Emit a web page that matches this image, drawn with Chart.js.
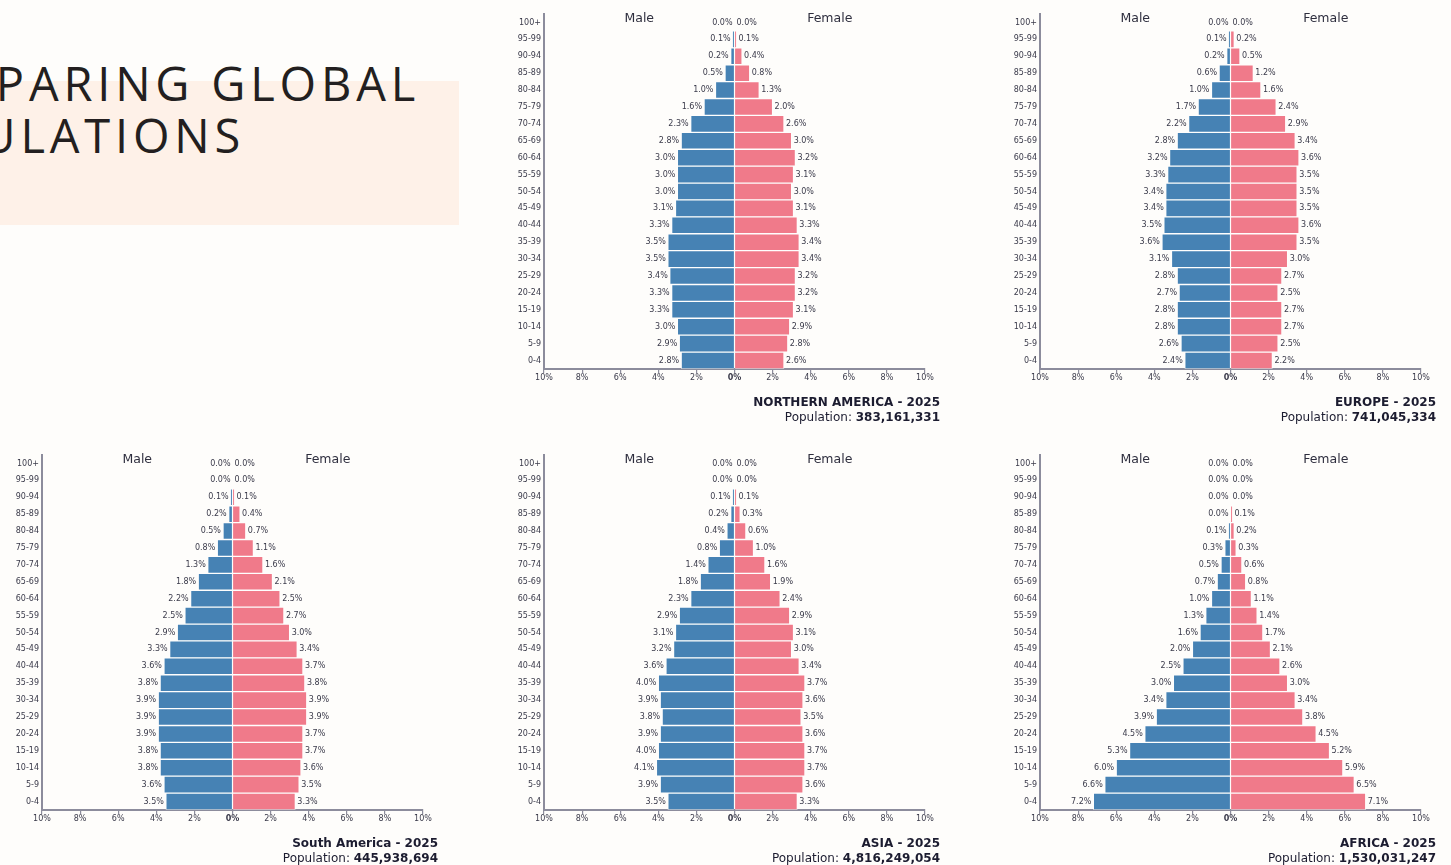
<!DOCTYPE html>
<html>
<head>
<meta charset="utf-8">
<script src="https://cdn.jsdelivr.net/npm/chart.js@4.4.1/dist/chart.umd.min.js"></script>
<style>
  html, body { margin: 0; padding: 0; }
  body { width: 1451px; height: 865px; background: #fefdfb; position: relative; overflow: hidden; font-family: "DejaVu Sans", sans-serif; }
  .box { position: absolute; left: 0; top: 81px; width: 459px; height: 144px; background: #fef1e8; }
  .head { position: absolute; white-space: nowrap; font-family: "Open Sans", sans-serif; font-size: 47px; line-height: 52px; letter-spacing: 4.8px; color: #231f20; text-align: right; }
  canvas { position: absolute; }
</style>
</head>
<body>
<div class="box"></div>
<div class="head" style="right:1031px; top:57px;">COMPARING GLOBAL</div>
<div class="head" style="right:1206px; top:109px;">POPULATIONS</div>

<canvas id="chart_na" width="440" height="425" style="left:504px; top:1px;"></canvas>
<canvas id="chart_eu" width="440" height="425" style="left:1000px; top:1px;"></canvas>
<canvas id="chart_sa" width="440" height="425" style="left:2px; top:442px;"></canvas>
<canvas id="chart_as" width="440" height="425" style="left:504px; top:442px;"></canvas>
<canvas id="chart_af" width="440" height="425" style="left:1000px; top:442px;"></canvas>

<script>
// age groups, top row first
const ageGroups = ["100+", "95-99", "90-94", "85-89", "80-84", "75-79", "70-74", "65-69", "60-64", "55-59",
  "50-54", "45-49", "40-44", "35-39", "30-34", "25-29", "20-24", "15-19", "10-14", "5-9", "0-4"];

const xTicks = [-10, -8, -6, -4, -2, 0, 2, 4, 6, 8, 10];

const naMale   = [0.0, 0.1, 0.2, 0.5, 1.0, 1.6, 2.3, 2.8, 3.0, 3.0, 3.0, 3.1, 3.3, 3.5, 3.5, 3.4, 3.3, 3.3, 3.0, 2.9, 2.8];
const naFemale = [0.0, 0.1, 0.4, 0.8, 1.3, 2.0, 2.6, 3.0, 3.2, 3.1, 3.0, 3.1, 3.3, 3.4, 3.4, 3.2, 3.2, 3.1, 2.9, 2.8, 2.6];

const euMale   = [0.0, 0.1, 0.2, 0.6, 1.0, 1.7, 2.2, 2.8, 3.2, 3.3, 3.4, 3.4, 3.5, 3.6, 3.1, 2.8, 2.7, 2.8, 2.8, 2.6, 2.4];
const euFemale = [0.0, 0.2, 0.5, 1.2, 1.6, 2.4, 2.9, 3.4, 3.6, 3.5, 3.5, 3.5, 3.6, 3.5, 3.0, 2.7, 2.5, 2.7, 2.7, 2.5, 2.2];

const saMale   = [0.0, 0.0, 0.1, 0.2, 0.5, 0.8, 1.3, 1.8, 2.2, 2.5, 2.9, 3.3, 3.6, 3.8, 3.9, 3.9, 3.9, 3.8, 3.8, 3.6, 3.5];
const saFemale = [0.0, 0.0, 0.1, 0.4, 0.7, 1.1, 1.6, 2.1, 2.5, 2.7, 3.0, 3.4, 3.7, 3.8, 3.9, 3.9, 3.7, 3.7, 3.6, 3.5, 3.3];

const asMale   = [0.0, 0.0, 0.1, 0.2, 0.4, 0.8, 1.4, 1.8, 2.3, 2.9, 3.1, 3.2, 3.6, 4.0, 3.9, 3.8, 3.9, 4.0, 4.1, 3.9, 3.5];
const asFemale = [0.0, 0.0, 0.1, 0.3, 0.6, 1.0, 1.6, 1.9, 2.4, 2.9, 3.1, 3.0, 3.4, 3.7, 3.6, 3.5, 3.6, 3.7, 3.7, 3.6, 3.3];

const afMale   = [0.0, 0.0, 0.0, 0.0, 0.1, 0.3, 0.5, 0.7, 1.0, 1.3, 1.6, 2.0, 2.5, 3.0, 3.4, 3.9, 4.5, 5.3, 6.0, 6.6, 7.2];
const afFemale = [0.0, 0.0, 0.0, 0.1, 0.2, 0.3, 0.6, 0.8, 1.1, 1.4, 1.7, 2.1, 2.6, 3.0, 3.4, 3.8, 4.5, 5.2, 5.9, 6.5, 7.1];

const MALE_COLOR = "#4682b4";
const FEMALE_COLOR = "#f07a8a";
const TEXT_COLOR = "#3a3a4a";
const AXIS_COLOR = "#8c8c9c";

// draws the % labels, the Male / Female headers and the title block
const pyramidLabels = {
  id: "pyramidLabels",
  afterDatasetsDraw(chart, args, opts) {
    const ctx = chart.ctx;
    const area = chart.chartArea;
    const xs = chart.scales.x;
    ctx.save();
    ctx.font = "8px 'DejaVu Sans'";
    ctx.fillStyle = TEXT_COLOR;
    ctx.textBaseline = "middle";
    chart.data.datasets.forEach((ds, i) => {
      const meta = chart.getDatasetMeta(i);
      meta.data.forEach((bar, j) => {
        const txt = Math.abs(ds.data[j]).toFixed(1) + "%";
        if (i === 0) {
          ctx.textAlign = "right";
          ctx.fillText(txt, bar.x - 2, bar.y);
        } else {
          ctx.textAlign = "left";
          ctx.fillText(txt, bar.x + 2, bar.y);
        }
      });
    });

    ctx.font = "12.5px 'DejaVu Sans'";
    ctx.fillStyle = "#2e2e3e";
    ctx.textAlign = "center";
    ctx.fillText("Male", xs.getPixelForValue(-5), area.top + 5);
    ctx.fillText("Female", xs.getPixelForValue(5), area.top + 5);

    const right = area.right + 15;
    ctx.fillStyle = "#1c1c30";
    ctx.textAlign = "right";
    ctx.font = "bold 12px 'DejaVu Sans'";
    ctx.fillText(opts.title, right, area.bottom + 34);
    const w = ctx.measureText(opts.population).width;
    ctx.fillText(opts.population, right, area.bottom + 49);
    ctx.font = "12px 'DejaVu Sans'";
    ctx.fillText("Population: ", right - w, area.bottom + 49);
    ctx.restore();
  },
};

function makePyramid(canvasId, male, female, title, population) {
  const ctx = document.getElementById(canvasId).getContext("2d");
  return new Chart(ctx, {
    type: "bar",
    data: {
      labels: ageGroups,
      datasets: [
        {
          label: "Male",
          data: male.map((v) => -v),
          backgroundColor: MALE_COLOR,
          borderColor: "rgba(255,255,255,0.55)",
          borderWidth: 1,
          barPercentage: 1,
          categoryPercentage: 1,
        },
        {
          label: "Female",
          data: female,
          backgroundColor: FEMALE_COLOR,
          borderColor: "rgba(255,255,255,0.55)",
          borderWidth: 1,
          barPercentage: 1,
          categoryPercentage: 1,
        },
      ],
    },
    options: {
      indexAxis: "y",
      responsive: false,
      animation: false,
      layout: {
        padding: { left: 4, right: 19, top: 13, bottom: 37 },
      },
      scales: {
        x: {
          stacked: true,
          min: -10,
          max: 10,
          afterFit: (s) => { s.height = 20; },
          afterBuildTicks: (s) => { s.ticks = xTicks.map((v) => ({ value: v })); },
          grid: {
            drawOnChartArea: false,
            drawTicks: true,
            tickLength: 4,
            color: AXIS_COLOR,
            lineWidth: 1.2,
          },
          border: { display: true, color: AXIS_COLOR, width: 2 },
          ticks: {
            padding: 0,
            color: TEXT_COLOR,
            maxRotation: 0,
            font: (c) => ({
              family: "DejaVu Sans",
              size: 8,
              weight: c.tick && c.tick.value === 0 ? "bold" : "normal",
            }),
            callback: (v) => Math.abs(v) + "%",
          },
        },
        y: {
          stacked: true,
          afterFit: (s) => { s.width = 36; },
          grid: { display: false, drawTicks: false, tickLength: 0 },
          border: { display: true, color: AXIS_COLOR, width: 2 },
          ticks: {
            padding: 3,
            color: TEXT_COLOR,
            font: { family: "DejaVu Sans", size: 8 },
          },
        },
      },
      plugins: {
        legend: { display: false },
        tooltip: { enabled: false },
        pyramidLabels: { title: title, population: population },
      },
    },
    plugins: [pyramidLabels],
  });
}

makePyramid("chart_na", naMale, naFemale, "NORTHERN AMERICA - 2025", "383,161,331");
makePyramid("chart_eu", euMale, euFemale, "EUROPE - 2025", "741,045,334");
makePyramid("chart_sa", saMale, saFemale, "South America - 2025", "445,938,694");
makePyramid("chart_as", asMale, asFemale, "ASIA - 2025", "4,816,249,054");
makePyramid("chart_af", afMale, afFemale, "AFRICA - 2025", "1,530,031,247");
</script>
</body>
</html>
